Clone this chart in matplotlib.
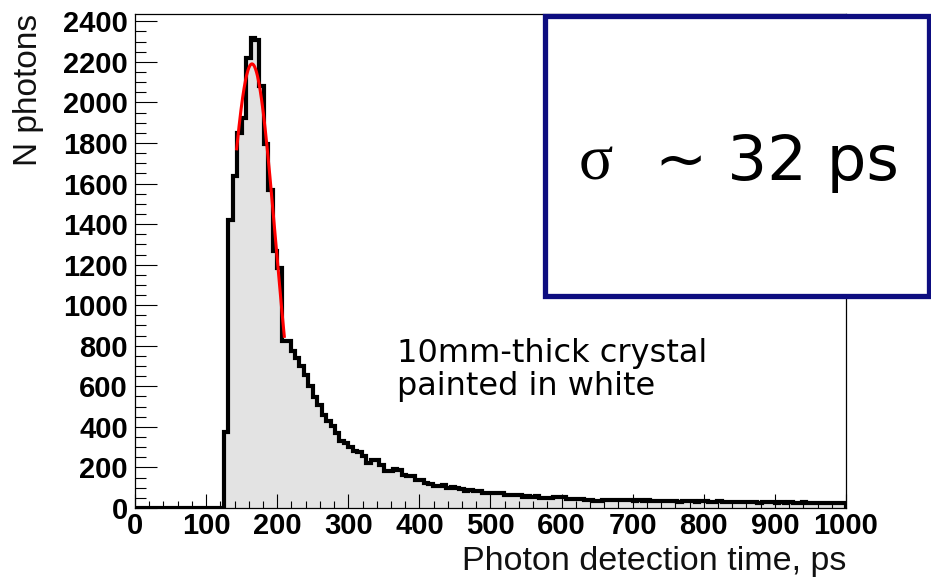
import matplotlib
matplotlib.use("Agg")
import matplotlib.pyplot as plt
import numpy as np
from matplotlib.patches import Rectangle
from matplotlib.ticker import MultipleLocator

# ── data ─────────────────────────────────────────────────────────────────────
T_MIN, T_MAX = 0.0, 1000.0
BIN_WIDTH = 6.25          # ps

counts = [
    0, 0, 0, 0, 0, 0, 0, 0, 0, 0,
    0, 0, 0, 0, 0, 0, 0, 0, 0, 0,
    375, 1420, 1636, 1850, 1925, 2220, 2320, 2310, 2080, 1795,
    1570, 1265, 1185, 825, 822, 776, 740, 698, 656, 600,
    545, 508, 460, 428, 402, 370, 330, 322, 303, 282,
    278, 254, 224, 238, 236, 212, 182, 180, 190, 186,
    165, 160, 158, 140, 136, 122, 119, 110, 108, 112,
    100, 102, 98, 95, 86, 88, 84, 85, 75, 74,
    76, 72, 73, 64, 66, 63, 62, 56, 58, 55,
    57, 48, 50, 49, 56, 55, 52, 45, 46, 44,
    43, 37, 38, 36, 35, 38, 40, 39, 40, 38,
    37, 39, 36, 38, 35, 37, 34, 36, 35, 33,
    36, 34, 32, 35, 33, 34, 31, 33, 35, 32,
    30, 33, 31, 29, 32, 30, 28, 31, 29, 30,
    27, 29, 31, 28, 26, 29, 27, 28, 25, 27,
    29, 26, 24, 27, 25, 26, 23, 25, 27, 24,
]

# gaussian fit parameters (red curve)
fit_amp   = 2190.0
fit_mean  = 164.5
fit_sigma = 33.0
fit_range = (143.0, 210.0)

x_ticks = [0, 100, 200, 300, 400, 500, 600, 700, 800, 900, 1000]
y_ticks = [0, 200, 400, 600, 800, 1000, 1200, 1400, 1600, 1800, 2000, 2200, 2400]
Y_MAX = 2436

note_lines = ["10mm-thick crystal", "painted in white"]
x_title = "Photon detection time, ps"
y_title = "N photons"

# ── figure ───────────────────────────────────────────────────────────────────
W, H = 931, 581
fig = plt.figure(figsize=(W / 100, H / 100), dpi=100)
ax = fig.add_axes([135 / W, 1 - 508 / H, 711 / W, 494 / H])

edges = np.arange(len(counts) + 1) * BIN_WIDTH + T_MIN
ax.stairs(counts, edges, fill=True, color="#e3e3e3", zorder=1)
ax.stairs(counts, edges, color="black", linewidth=3.0, zorder=2)

xf = np.linspace(*fit_range, 200)
yf = fit_amp * np.exp(-0.5 * ((xf - fit_mean) / fit_sigma) ** 2)
ax.plot(xf, yf, color="red", linewidth=2.2, zorder=3)

ax.set_xlim(T_MIN, T_MAX)
ax.set_ylim(0, Y_MAX)
ax.set_xticks(x_ticks)
ax.set_yticks(y_ticks)
ax.xaxis.set_minor_locator(MultipleLocator(20))
ax.yaxis.set_minor_locator(MultipleLocator(50))
ax.tick_params(axis="x", which="major", direction="in", length=10, width=0.8, pad=3)
ax.tick_params(axis="x", which="minor", direction="in", length=5, width=0.8)
ax.tick_params(axis="y", which="major", direction="in", length=16, width=0.8, pad=5)
ax.tick_params(axis="y", which="minor", direction="in", length=8, width=0.8)
for lab in ax.get_xticklabels() + ax.get_yticklabels():
    lab.set_family("Liberation Sans")
    lab.set_fontweight("bold")
    lab.set_fontsize(21)
for sp in ax.spines.values():
    sp.set_linewidth(0.9)

# axis titles (ROOT style: right-aligned at the axis end)
fig.text(846 / W, 1 - 570 / H, x_title, ha="right", va="baseline",
         family="Liberation Sans", fontsize=24.5, color="#111111")
fig.text(29 / W, 1 - 14 / H, y_title, ha="center", va="top", rotation=90,
         family="Liberation Sans", fontsize=24, color="#111111")

# annotation
fig.text(397 / W, 1 - 362 / H, note_lines[0], ha="left", va="baseline",
         family="DejaVu Sans", fontsize=23)
fig.text(397 / W, 1 - 395 / H, note_lines[1], ha="left", va="baseline",
         family="DejaVu Sans", fontsize=23)

# sigma box
box = Rectangle((545 / W, 1 - 296 / H), 384 / W, 280 / H, transform=fig.transFigure,
                facecolor="white", edgecolor="#0d0d80", linewidth=3.8, zorder=5)
fig.add_artist(box)
fig.text(579 / W, 1 - 180 / H, "σ", ha="left", va="baseline",
         family="Liberation Serif", fontsize=46, zorder=6)
fig.text(655 / W, 1 - 180 / H, "~ 32 ps", ha="left", va="baseline",
         family="DejaVu Sans", fontsize=45, zorder=6)

fig.savefig("out.png", dpi=100)
